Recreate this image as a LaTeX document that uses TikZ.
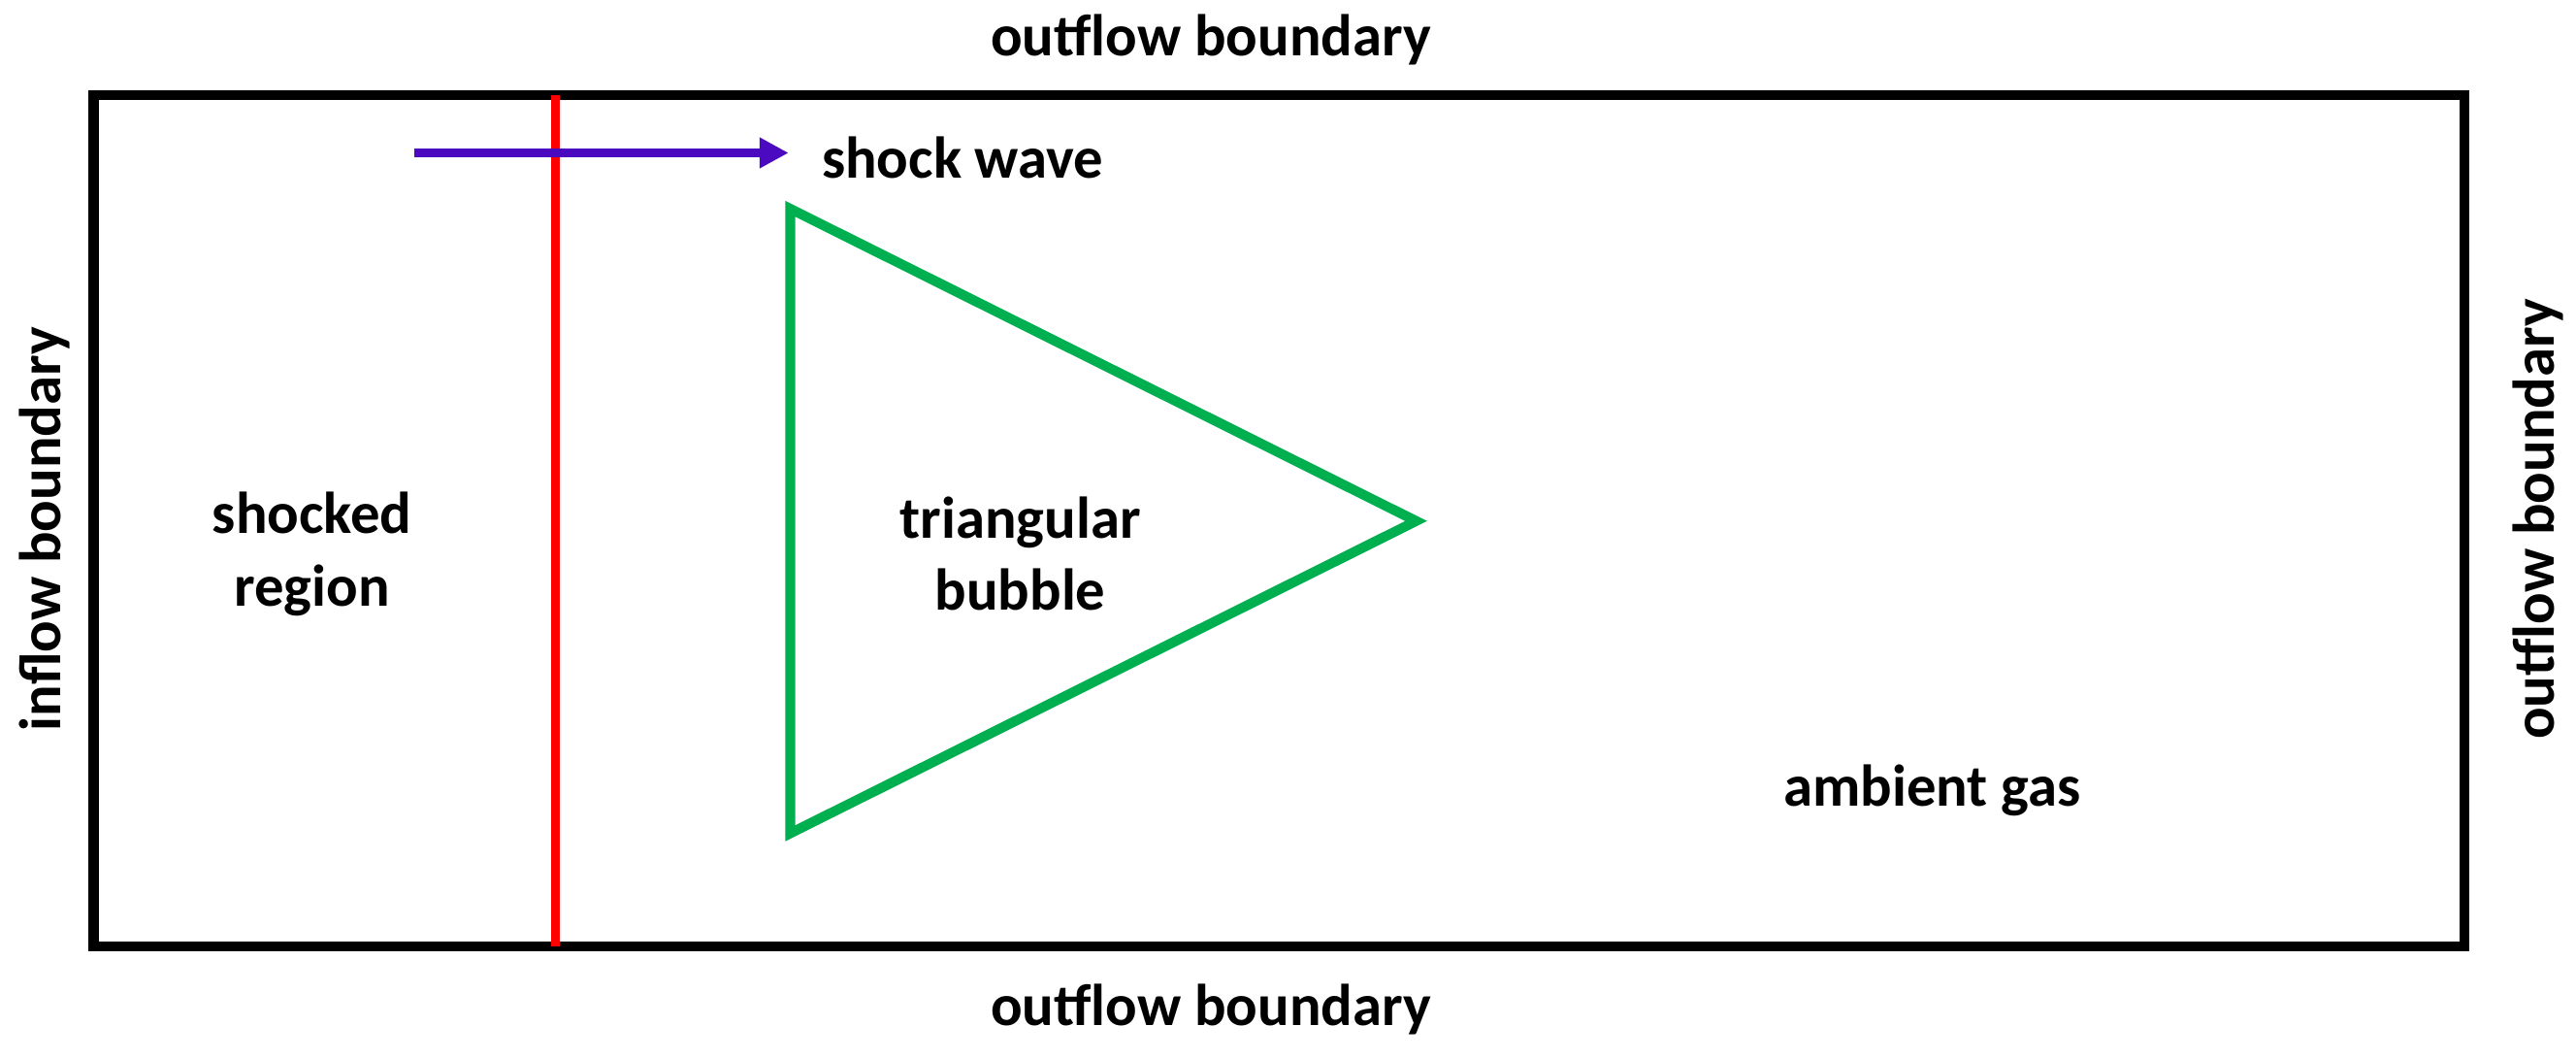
\documentclass[tikz,border=0pt]{standalone}
\usepackage{fontspec}
\setmainfont{Carlito}
\usetikzlibrary{arrows.meta}
\definecolor{tgreen}{HTML}{00B050}
\definecolor{tpurple}{HTML}{4B0ABF}
\begin{document}
\begin{tikzpicture}[x=0.01cm,y=-0.01cm,
  lbl/.style={font=\bfseries\fontsize{10.2}{12.5}\selectfont,align=center,inner sep=0pt}]
\useasboundingbox (0,0) rectangle (1568,644);
\draw[line width=1.7pt] (57,58) rectangle (1500,576);
\coordinate (rt) at (338,58); \coordinate (rb) at (338,576);
\draw[red,line width=1.6pt] (rt) -- (rb);
\coordinate (a1) at (252,93); \coordinate (a2) at (480,93);
\draw[tpurple,line width=1.6pt,-{Triangle[length=5pt,width=5pt]}] (a1) -- (a2);
\coordinate (t1) at (481,127); \coordinate (t2) at (862,317); \coordinate (t3) at (481,507);
\draw[tgreen,line width=1.7pt] (t1) -- (t2) -- (t3) -- cycle;
\node[lbl] (sw) at (586,96) {shock wave};
\node[lbl] (tb) at (621,337) {triangular\\bubble};
\node[lbl] (sr) at (190,337) {shocked\\region};
\node[lbl] (ag) at (1176,481) {ambient gas};
\node[lbl] (ot) at (737,24) {outflow boundary};
\node[lbl] (ob) at (737,614) {outflow boundary};
\node[lbl,rotate=90] (ib) at (27,322) {inflow boundary};
\node[lbl,rotate=90] (or) at (1545,316) {outflow boundary};
\end{tikzpicture}
\end{document}
